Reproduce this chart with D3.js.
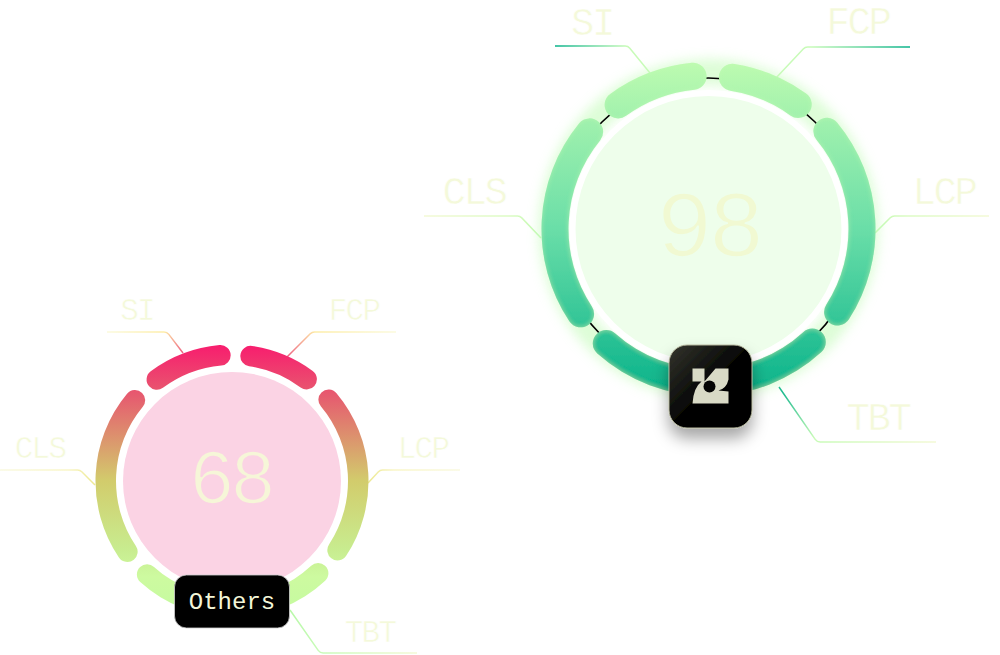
<html>
<head>
<meta charset="utf-8">
<script src="https://cdnjs.cloudflare.com/ajax/libs/d3/7.8.5/d3.min.js"></script>
<style>
  body { margin: 0; background: #fff; }
  svg { display: block; }
  text { font-family: "Liberation Mono", monospace; }
</style>
</head>
<body>
<script>
// chart data
var metricNames = ["SI", "FCP", "LCP", "TBT", "CLS"];
var metricSpans = [45, 41.5, 87, 99, 87.5]; // degrees of ring per metric
var gaugeScores = [98, 68];
var gaugeBadges = ["logo", "Others"];

var viz = { "width": 1000, "height": 655 };
var firstAngle = -43.4;

// layout of the two gauges, label/leader routes are [start, elbow, end] by metric
var layouts = [
  { id: "a", cx: 708.5, cy: 229, disc: 133, inner: 140, outer: 167, gap: 4.6, glow: true,
    scoreSize: 95, scoreX: 708, scoreY: 256, scoreSpacing: -5, scoreFill: "#f1f9d2", scoreThin: "#eefeeb",
    discFill: "#eefeeb",
    labelSize: 39, labelSpacing: -2.4,
    ringStops: [[0, "#bdfbb0"], [0.5, "#6adea8"], [1, "#08b28a"]],
    labels: [[592, 35], [858, 34], [944, 204], [878, 430], [474, 204]],
    routes: [
      [[555, 46], [628, 46], [650, 73]],
      [[910, 47], [805, 47], [776, 78]],
      [[989, 216], [892, 216], [875, 233]],
      [[936, 442], [817, 442], [779, 387]],
      [[424, 216], [520, 216], [541, 238]]
    ],
    routeFrom: ["#08b28a", "#08b28a", "#f3f9d5", "#f3f9d5", "#f3f9d5"],
    routeMid: ["#c8fbb8", "#c8fbb8", "#dcfbc4", "#c8fbb8", "#dcfbc4"],
    routeTo: ["#c8fbb8", "#c8fbb8", "#c0fab0", "#08b28a", "#c0fab0"]
  },
  { id: "b", cx: 232, cy: 481, disc: 109, inner: 116, outer: 136.5, gap: 4.4, glow: false,
    discFill: "#fbd3e4",
    scoreSize: 77, scoreX: 230, scoreY: 503, scoreSpacing: -5, scoreFill: "#f6f6d8", scoreThin: "#fbd3e4",
    labelSize: 31, labelSpacing: -1.8,
    ringStops: [[0, "#f81c6e"], [0.2, "#e5606f"], [0.5, "#d2cc6c"], [0.75, "#c8ec8f"], [0.85, "#cdfaa0"], [1, "#c4fba0"]],
    labels: [[137, 320], [354, 320], [423, 458], [370, 642], [40, 458]],
    routes: [
      [[107, 332], [167, 332], [183, 353]],
      [[396, 332], [312, 332], [287, 357]],
      [[460, 470], [380, 470], [368, 483]],
      [[417, 653], [320, 653], [290, 610]],
      [[0, 470], [80, 470], [95, 485]]
    ],
    routeFrom: ["#fbfadc", "#fbfadc", "#f9f9e0", "#f3f9d5", "#f9f9e0"],
    routeMid: ["#fdeda8", "#fdeda8", "#f9f6c8", "#c8fbb8", "#f9f6c8"],
    routeTo: ["#ee5f80", "#ee5f80", "#ece890", "#b8f8a8", "#ece890"]
  }
];

var svg = d3.select("body").append("svg")
    .attr("width", viz.width)
    .attr("height", viz.height);
var defs = svg.append("defs");

function rad(deg) { return deg * Math.PI / 180; }

var glowFilter = defs.append("filter").attr("id", "glow")
    .attr("x", "-30%").attr("y", "-30%").attr("width", "160%").attr("height", "160%");
glowFilter.append("feGaussianBlur").attr("stdDeviation", 6);

// pale fringe inside the green segments
var fringe = defs.append("filter").attr("id", "fringe")
    .attr("x", "-10%").attr("y", "-10%").attr("width", "120%").attr("height", "120%");
fringe.append("feComponentTransfer").attr("in", "SourceAlpha").attr("result", "inv")
    .append("feFuncA").attr("type", "table").attr("tableValues", "1 0");
fringe.append("feGaussianBlur").attr("in", "inv").attr("stdDeviation", 2.5).attr("result", "soft");
fringe.append("feFlood").attr("flood-color", "#c4fbb4").attr("flood-opacity", 0.45);
fringe.append("feComposite").attr("in2", "soft").attr("operator", "in").attr("result", "tint");
fringe.append("feComposite").attr("in", "tint").attr("in2", "SourceAlpha").attr("operator", "in").attr("result", "edge");
var fringeMerge = fringe.append("feMerge");
fringeMerge.append("feMergeNode").attr("in", "SourceGraphic");
fringeMerge.append("feMergeNode").attr("in", "edge");

var shadow = defs.append("filter").attr("id", "badgeShadow")
    .attr("x", "-40%").attr("y", "-40%").attr("width", "180%").attr("height", "190%");
shadow.append("feDropShadow").attr("dx", 0).attr("dy", 10).attr("stdDeviation", 8)
    .attr("flood-color", "#000").attr("flood-opacity", 0.35);

var badgeFill = defs.append("linearGradient").attr("id", "badgeFill")
    .attr("x1", "0").attr("y1", "0").attr("x2", "1").attr("y2", "1");
badgeFill.append("stop").attr("offset", "0").attr("stop-color", "#35362e");
badgeFill.append("stop").attr("offset", "0.55").attr("stop-color", "#000");

var pie = d3.pie().sort(null).value(function(d) { return d; })
    .startAngle(rad(firstAngle)).endAngle(rad(firstAngle + 360));

function drawGauge(cfg, score, badge) {
    var grad = defs.append("linearGradient").attr("id", "ring-" + cfg.id)
        .attr("gradientUnits", "userSpaceOnUse")
        .attr("x1", 0).attr("x2", 0).attr("y1", -cfg.outer).attr("y2", cfg.outer);
    grad.selectAll("stop").data(cfg.ringStops).enter().append("stop")
        .attr("offset", function(d) { return d[0]; })
        .attr("stop-color", function(d) { return d[1]; });

    var halfGap = rad(cfg.gap) / 2;
    var arc = d3.arc()
        .innerRadius(cfg.inner).outerRadius(cfg.outer)
        .cornerRadius((cfg.outer - cfg.inner) / 2)
        .startAngle(function(d) { return d.startAngle + halfGap; })
        .endAngle(function(d) { return d.endAngle - halfGap; });
    var slices = pie(metricSpans);

    // leader lines go under the ring
    metricNames.forEach(function(name, i) {
        var r = cfg.routes[i];
        var lg = defs.append("linearGradient").attr("id", "lead-" + cfg.id + i)
            .attr("gradientUnits", "userSpaceOnUse")
            .attr("x1", r[0][0]).attr("y1", r[0][1]).attr("x2", r[2][0]).attr("y2", r[2][1] + 0.01);
        lg.append("stop").attr("offset", 0).attr("stop-color", cfg.routeFrom[i]);
        lg.append("stop").attr("offset", 0.7).attr("stop-color", cfg.routeMid[i]);
        lg.append("stop").attr("offset", 1).attr("stop-color", cfg.routeTo[i]);
        var p = d3.path();
        p.moveTo(r[0][0], r[0][1]);
        p.arcTo(r[1][0], r[1][1], r[2][0], r[2][1], 6);
        p.lineTo(r[2][0], r[2][1]);
        svg.append("path").attr("d", p.toString())
            .attr("fill", "none").attr("stroke-width", 1.5)
            .attr("stroke", "url(#lead-" + cfg.id + i + ")");
        svg.append("text").attr("x", cfg.labels[i][0]).attr("y", cfg.labels[i][1])
            .attr("text-anchor", "middle")
            .attr("font-size", cfg.labelSize)
            .attr("letter-spacing", cfg.labelSpacing)
            .attr("fill", "#f4f9da")
            .attr("stroke", "#fff").attr("stroke-width", 0.6)
            .text(name);
    });

    var g = svg.append("g").attr("transform", "translate(" + cfg.cx + "," + cfg.cy + ")");

    if (cfg.glow) {
        g.append("g").attr("filter", "url(#glow)").attr("opacity", 0.6)
            .selectAll("path").data(slices).enter().append("path")
            .attr("d", d3.arc().innerRadius(cfg.inner + 4).outerRadius(cfg.outer + 3)
                .startAngle(function(d) { return d.startAngle; })
                .endAngle(function(d) { return d.endAngle; }))
            .attr("fill", "#c6fcbc");
        g.append("circle").attr("r", cfg.inner - 1).attr("fill", "#fff");
        g.append("circle").attr("r", 151).attr("fill", "none")
            .attr("stroke", "#000").attr("stroke-width", 1.6);
    }

    g.append("circle").attr("r", cfg.disc).attr("fill", cfg.discFill);

    g.append("g").attr("filter", cfg.glow ? "url(#fringe)" : null)
        .selectAll("path").data(slices).enter().append("path")
        .attr("d", arc)
        .attr("fill", "url(#ring-" + cfg.id + ")");

    svg.append("text").attr("x", cfg.scoreX).attr("y", cfg.scoreY)
        .attr("text-anchor", "middle")
        .attr("font-size", cfg.scoreSize)
        .attr("letter-spacing", cfg.scoreSpacing)
        .attr("fill", cfg.scoreFill)
        .attr("stroke", cfg.scoreThin).attr("stroke-width", 1.6)
        .text(score);

    if (badge === "logo") drawLogoBadge(); else drawTextBadge(badge);
}

function drawLogoBadge() {
    var b = svg.append("g").attr("transform", "translate(710.5,386.5)");
    b.append("rect").attr("x", -41.5).attr("y", -41.5).attr("width", 83).attr("height", 83)
        .attr("rx", 18).attr("fill", "url(#badgeFill)")
        .attr("stroke", "#b6b89e").attr("stroke-width", 1)
        .attr("filter", "url(#badgeShadow)");
    // one compound shape so the pieces leave no seams
    var mark = b.append("g").attr("fill", "#d9dac6").attr("transform", "translate(0,-1)");
    mark.append("path").attr("d", "M-18,-17 L-6,-17 L-6,-4 L5,-17 L18,-17 L18,-6 Q16,3 8,5 L18,6 L18,18 L-18,18 Q-17,2 -9,-4 L-18,-4 Z");
    mark.append("circle").attr("cx", -1).attr("cy", 1).attr("r", 6).attr("fill", "#050504");
}

function drawTextBadge(label) {
    var b = svg.append("g").attr("transform", "translate(232,601.5)");
    b.append("rect").attr("x", -57.5).attr("y", -26.5).attr("width", 115).attr("height", 53)
        .attr("rx", 12).attr("fill", "#000").attr("stroke", "#cfcfcf").attr("stroke-width", 0.8);
    b.append("text").attr("y", 7).attr("text-anchor", "middle")
        .attr("font-size", 24).attr("fill", "#f3f6d8")
        .text(label);
}

layouts.forEach(function(cfg, i) {
    drawGauge(cfg, gaugeScores[i], gaugeBadges[i]);
});
</script>
</body>
</html>
